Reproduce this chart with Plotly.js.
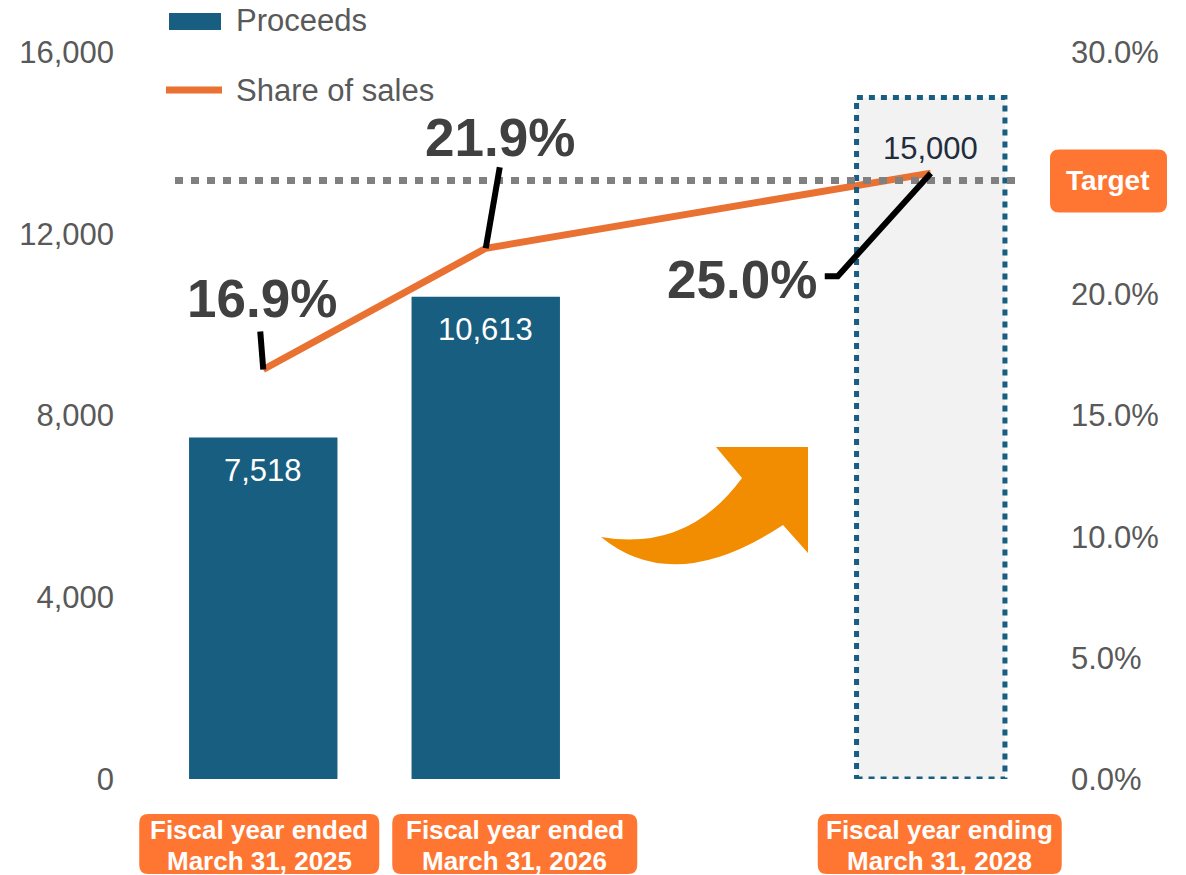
<!DOCTYPE html>
<html>
<head>
<meta charset="utf-8">
<script src="https://cdn.plot.ly/plotly-3.0.1.min.js"></script>
<style>html,body{margin:0;padding:0;background:#fff;}#chart{width:1186px;height:875px;}</style>
</head>
<body>
<div id="chart"></div>
<script>
// ---- data ----
const categories = ['FY2025', 'FY2026', 'FY2027', 'FY2028'];
const categoryLabelTop = ['Fiscal year ended', 'Fiscal year ended', '', 'Fiscal year ending'];
const categoryLabelBottom = ['March 31, 2025', 'March 31, 2026', '', 'March 31, 2028'];
const proceeds = [7518, 10613, null, 15000];
const proceedsLabels = ['7,518', '10,613', '', '15,000'];
const shareOfSales = [16.9, 21.9, null, 25.0];
const shareLabels = ['16.9%', '21.9%', '', '25.0%'];
const isTarget = [false, false, false, true];
const leftTicks = [0, 4000, 8000, 12000, 16000];
const rightTicks = [0, 5, 10, 15, 20, 30];
const rightTickText = ['0.0%', '5.0%', '10.0%', '15.0%', '20.0%', '30.0%'];
const targetShare = 24.7;
const targetLabel = 'Target';
const legendNames = ['Proceeds', 'Share of sales'];

// ---- layout geometry ----
const FULL_W = 1186, FULL_H = 875;
const L = 152, R = 1042, T = 52, B = 779;
const PW = R - L, PH = B - T;
const Y1MAX = 16000, Y2MAX = 30;
const BAR_W = 0.667;
const BLUE = '#175E80', ORANGE_LINE = '#E97132', ORANGE_BOX = '#FF7632', ARROW = '#F28C00';
const GRAY_TXT = '#595959';
const FONT = 'Arial, "Liberation Sans", sans-serif';
const TXT = 31;

const px2x = p => (p - L) / PW;
const py2y = p => (B - p) / PH;
const catPx = i => L + (i + 0.5) * PW / categories.length;
const y1Px = v => B - v / Y1MAX * PH;
const y2Px = v => B - v / Y2MAX * PH;

function pathPx(pts, close) {
  return pts.map((p, k) => (k ? 'L' : 'M') + px2x(p[0]).toFixed(5) + ',' + py2y(p[1]).toFixed(5)).join(' ') + (close ? ' Z' : '');
}
function roundRect(x0, y0, x1, y1, r) {
  const X = p => px2x(p).toFixed(5), Y = p => py2y(p).toFixed(5);
  return `M${X(x0 + r)},${Y(y0)} L${X(x1 - r)},${Y(y0)} Q${X(x1)},${Y(y0)} ${X(x1)},${Y(y0 + r)} ` +
    `L${X(x1)},${Y(y1 - r)} Q${X(x1)},${Y(y1)} ${X(x1 - r)},${Y(y1)} L${X(x0 + r)},${Y(y1)} ` +
    `Q${X(x0)},${Y(y1)} ${X(x0)},${Y(y1 - r)} L${X(x0)},${Y(y0 + r)} Q${X(x0)},${Y(y0)} ${X(x0 + r)},${Y(y0)} Z`;
}

// ---- traces ----
const barTrace = {
  type: 'bar', x: categories, y: proceeds, width: BAR_W,
  marker: { color: isTarget.map(t => t ? '#F2F2F2' : BLUE), line: { width: 0 } },
  hoverinfo: 'skip', showlegend: false, name: legendNames[0]
};
const lineTrace = {
  type: 'scatter', mode: 'lines', x: categories, y: shareOfSales, yaxis: 'y2',
  connectgaps: true, line: { color: ORANGE_LINE, width: 7 },
  hoverinfo: 'skip', showlegend: false, name: legendNames[1]
};

const shapes = [];
const annotations = [];

// dotted border on target bar
categories.forEach((c, i) => {
  if (!isTarget[i] || proceeds[i] == null) return;
  shapes.push({ type: 'rect', xref: 'x', yref: 'y', x0: i - BAR_W / 2, x1: i + BAR_W / 2, y0: 0, y1: proceeds[i],
    line: { color: BLUE, width: 5, dash: '6px,6px' }, fillcolor: 'rgba(0,0,0,0)', layer: 'above' });
});

// target dotted line
shapes.push({ type: 'line', xref: 'paper', yref: 'y2', x0: px2x(175), x1: px2x(1016), y0: targetShare, y1: targetShare,
  line: { color: '#808080', width: 7, dash: '8px,8px' }, layer: 'above' });

// target label box
const ty = y2Px(targetShare);
shapes.push({ type: 'path', xref: 'paper', yref: 'paper', path: roundRect(1050, ty - 31, 1167, ty + 32, 9),
  fillcolor: ORANGE_BOX, line: { width: 0 }, layer: 'above' });
annotations.push({ xref: 'paper', yref: 'y2', x: px2x(1108), y: targetShare, text: '<b>' + targetLabel + '</b>',
  showarrow: false, xanchor: 'center', yanchor: 'middle', font: { family: FONT, size: 28, color: '#fff' } });

// big curved arrow
shapes.push({ type: 'path', xref: 'paper', yref: 'paper', fillcolor: ARROW, line: { width: 0 }, layer: 'above',
  path: 'M' + px2x(601) + ',' + py2y(537) + ' Q' + px2x(688) + ',' + py2y(552) + ' ' + px2x(742) + ',' + py2y(478) +
    ' L' + px2x(716) + ',' + py2y(447) + ' L' + px2x(808) + ',' + py2y(447) + ' L' + px2x(808) + ',' + py2y(553) +
    ' L' + px2x(783) + ',' + py2y(525) + ' Q' + px2x(674) + ',' + py2y(597) + ' ' + px2x(601) + ',' + py2y(537) + ' Z' });

// bar value labels
categories.forEach((c, i) => {
  if (proceeds[i] == null) return;
  annotations.push({ x: c, y: proceeds[i], xref: 'x', yref: 'y', text: proceedsLabels[i], showarrow: false,
    yanchor: 'middle', yshift: isTarget[i] ? -51 : -33,
    font: { family: FONT, size: TXT, color: isTarget[i] ? '#1F2D3D' : '#FFFFFF' } });
});

// percentage callouts (offsets in px from the data point)
const calloutText = [[-1, -71], [14, -111], null, [-189, 106]];
const calloutLeader = [[[-3, -38]], [[14, -81]], null, [[-93, 103], [-106, 103]]];
categories.forEach((c, i) => {
  if (shareOfSales[i] == null) return;
  const px = catPx(i), py = y2Px(shareOfSales[i]);
  const pts = [[px, py]].concat(calloutLeader[i].map(o => [px + o[0], py + o[1]]));
  shapes.push({ type: 'path', xref: 'paper', yref: 'paper', path: pathPx(pts, false),
    line: { color: '#000', width: 6 }, fillcolor: 'rgba(0,0,0,0)', layer: 'above' });
  annotations.push({ x: c, y: shareOfSales[i], xref: 'x', yref: 'y2', text: '<b>' + shareLabels[i] + '</b>', showarrow: false,
    xanchor: 'center', yanchor: 'middle', xshift: calloutText[i][0], yshift: -calloutText[i][1],
    font: { family: FONT, size: 53, color: '#404040' } });
});

// category label boxes
const boxOffset = [-4, 29, 0, 9];
const boxWidth = [240, 245, 0, 244];
categories.forEach((c, i) => {
  if (!categoryLabelTop[i]) return;
  const cx = catPx(i) + boxOffset[i];
  shapes.push({ type: 'path', xref: 'paper', yref: 'paper', path: roundRect(cx - boxWidth[i] / 2, 814, cx + boxWidth[i] / 2, 874, 9),
    fillcolor: ORANGE_BOX, line: { width: 0 }, layer: 'above' });
  [[categoryLabelTop[i], 830], [categoryLabelBottom[i], 861]].forEach(([t, y]) => {
    annotations.push({ xref: 'paper', yref: 'paper', x: px2x(cx), y: py2y(y), text: '<b>' + t + '</b>', showarrow: false,
      xanchor: 'center', yanchor: 'middle', font: { family: FONT, size: 26, color: '#FFFFFF' } });
  });
});

// custom legend
shapes.push({ type: 'rect', xref: 'paper', yref: 'paper', x0: px2x(169), x1: px2x(221), y0: py2y(30), y1: py2y(13),
  fillcolor: BLUE, line: { width: 0 } });
shapes.push({ type: 'line', xref: 'paper', yref: 'paper', x0: px2x(166), x1: px2x(222), y0: py2y(90), y1: py2y(90),
  line: { color: ORANGE_LINE, width: 7 } });
[[legendNames[0], 21], [legendNames[1], 90]].forEach(([t, y]) => {
  annotations.push({ xref: 'paper', yref: 'paper', x: px2x(234), y: py2y(y), text: t, showarrow: false,
    xanchor: 'left', yanchor: 'middle', font: { family: FONT, size: TXT, color: GRAY_TXT } });
});

const layout = {
  width: FULL_W, height: FULL_H,
  margin: { l: L, r: FULL_W - R, t: T, b: FULL_H - B, pad: 0 },
  paper_bgcolor: '#FFFFFF', plot_bgcolor: '#FFFFFF',
  font: { family: FONT, color: GRAY_TXT },
  showlegend: false, barmode: 'overlay',
  xaxis: { type: 'category', categoryorder: 'array', categoryarray: categories, range: [-0.5, categories.length - 0.5],
    showticklabels: false, showgrid: false, zeroline: false, showline: false, ticks: '' },
  yaxis: { range: [0, Y1MAX], tickvals: leftTicks, tickformat: ',d', showgrid: false, zeroline: false, showline: false,
    ticks: '', ticklabelstandoff: 37, tickfont: { family: FONT, size: TXT, color: GRAY_TXT } },
  yaxis2: { range: [0, Y2MAX], overlaying: 'y', side: 'right', tickvals: rightTicks, ticktext: rightTickText,
    showgrid: false, zeroline: false, showline: false, ticks: '', ticklabelstandoff: 28,
    tickfont: { family: FONT, size: TXT, color: GRAY_TXT } },
  shapes: shapes, annotations: annotations
};

Plotly.newPlot('chart', [barTrace, lineTrace], layout, { staticPlot: true, displayModeBar: false });
</script>
</body>
</html>
